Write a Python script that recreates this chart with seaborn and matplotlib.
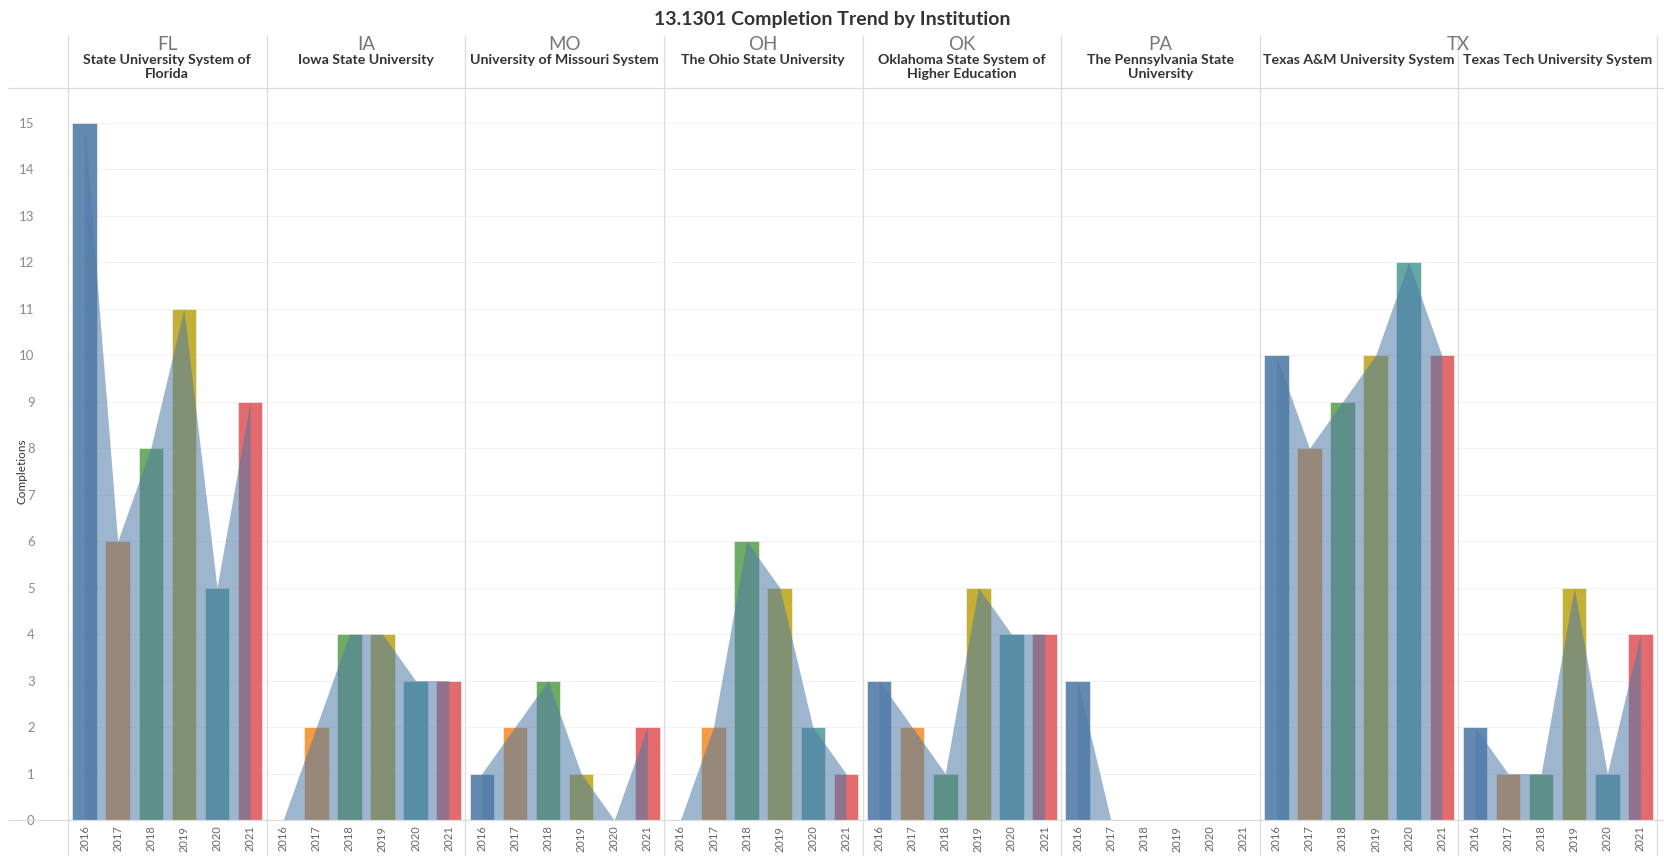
import numpy as np
import pandas as pd
import seaborn as sns
from matplotlib import pyplot as plt
from matplotlib.lines import Line2D

years = ["2016", "2017", "2018", "2019", "2020", "2021"]
states = ["FL", "IA", "MO", "OH", "OK", "PA", "TX", "TX"]
institutions = [
    "State University System of\nFlorida",
    "Iowa State University",
    "University of Missouri System",
    "The Ohio State University",
    "Oklahoma State System of\nHigher Education",
    "The Pennsylvania State\nUniversity",
    "Texas A&M University System",
    "Texas Tech University System",
]
fl = [15, 6, 8, 11, 5, 9]
ia = [0, 2, 4, 4, 3, 3]
mo = [1, 2, 3, 1, 0, 2]
oh = [0, 2, 6, 5, 2, 1]
ok = [3, 2, 1, 5, 4, 4]
pa = [3, 0, 0, 0, 0, 0]
tamu = [10, 8, 9, 10, 12, 10]
ttu = [2, 1, 1, 5, 1, 4]
values = [fl, ia, mo, oh, ok, pa, tamu, ttu]

year_colors = ["#4e79a7", "#f28e2b", "#59a14f", "#bca51a", "#4e9c98", "#e15759"]

df = pd.DataFrame(
    [(inst, y, v) for inst, vals in zip(institutions, values) for y, v in zip(years, vals)],
    columns=["institution", "year", "completions"],
)

sns.set_theme(style="white")
plt.rcParams["font.family"] = ["Lato", "DejaVu Sans"]

W, H = 1665, 856
fig = plt.figure(figsize=(W / 100, H / 100), dpi=100)

left0, right0 = 68, 1657
pw = (right0 - left0) / 8
y_zero, y_top, y_15 = 820, 88, 123
ymax = 15 * (y_zero - y_top) / (y_zero - y_15)
border = "#dcdcdc"

for i, inst in enumerate(institutions):
    ax = fig.add_axes([(left0 + i * pw) / W, (H - y_zero) / H, pw / W, (y_zero - y_top) / H])
    sub = df[df["institution"] == inst]
    sns.barplot(data=sub, x="year", y="completions", hue="year", order=years,
                hue_order=years, palette=year_colors, saturation=1, width=0.74,
                legend=False, alpha=0.88, edgecolor="#f4f4f4", linewidth=0.5, ax=ax)
    ax.fill_between(np.arange(len(years)), sub["completions"].to_numpy(),
                    color="#4e79a7", alpha=0.55, lw=0, zorder=3)
    ax.set_xlim(-0.5, 5.5)
    ax.set_ylim(0, ymax)
    ax.set_yticks(range(16))
    ax.yaxis.grid(True, color="#f2f2f2", lw=0.8)
    ax.set_axisbelow(True)
    for s in ax.spines.values():
        s.set_visible(False)
    ax.set_xlabel("")
    ax.set_ylabel("")
    ax.tick_params(axis="x", length=0, pad=4, labelsize=8, labelcolor="#666666",
                   labelrotation=90)
    if i == 0:
        ax.tick_params(axis="y", length=0, pad=24, labelsize=9.5, labelcolor="#8a8a8a")
    else:
        ax.tick_params(axis="y", length=0, labelleft=False)
    # institution header
    cx = (left0 + (i + 0.5) * pw) / W
    fig.text(cx, 1 - 54 / H, inst, ha="center", va="top", fontsize=10.2,
             fontweight="bold", color="#333333", linespacing=1.2)

# state headers
state_pos = {}
for i, s in enumerate(states):
    state_pos.setdefault(s, []).append(i)
for s, idx in state_pos.items():
    cx = (left0 + (np.mean(idx) + 0.5) * pw) / W
    fig.text(cx, 1 - 44 / H, s, ha="center", va="center", fontsize=13.5, color="#777777")

# borders
for i in range(9):
    x = (left0 + i * pw) / W
    fig.add_artist(Line2D([x, x], [0, 1 - 36 / H], color=border, lw=0.9))
fig.add_artist(Line2D([8 / W, 1], [1 - 88 / H, 1 - 88 / H], color=border, lw=0.9))
fig.add_artist(Line2D([8 / W, 1], [1 - y_zero / H, 1 - y_zero / H], color=border, lw=0.9))

fig.text(22 / W, 1 - 471 / H, "Completions", rotation=90, ha="center", va="center",
         fontsize=8.5, color="#333333")
fig.text(0.5, 1 - 20 / H, "13.1301 Completion Trend by Institution", ha="center",
         va="center", fontsize=14, fontweight="bold", color="#333333")

fig.savefig("out.png", dpi=100)
